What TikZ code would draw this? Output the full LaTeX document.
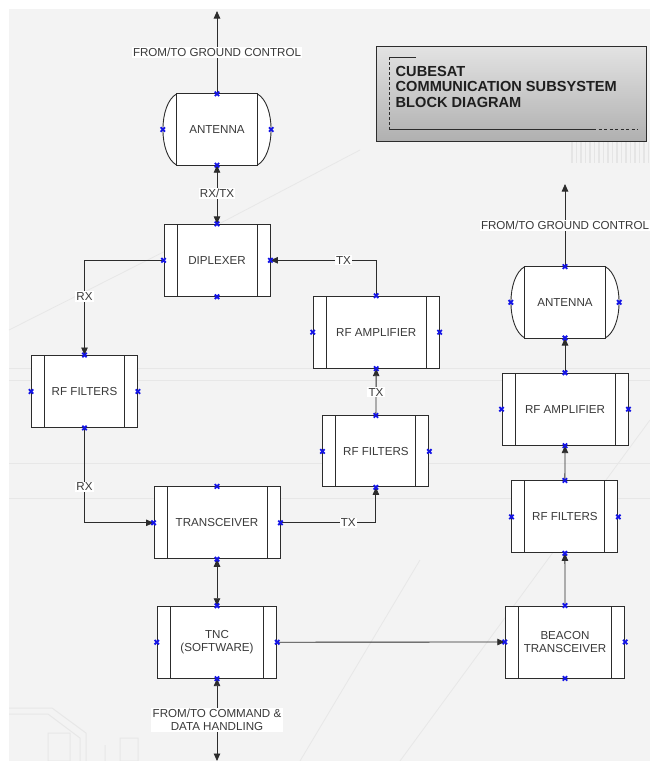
\documentclass[tikz,border=0pt]{standalone}
\usepackage{fontspec}
\setmainfont{Liberation Sans}
\usetikzlibrary{arrows.meta}
\definecolor{ink}{HTML}{2C2C2C}
\definecolor{txt}{HTML}{3A3A3A}
\definecolor{bg}{HTML}{F3F3F3}
\definecolor{faint}{HTML}{E7E7E7}
\definecolor{portblue}{HTML}{1414E6}
\begin{document}
\begin{tikzpicture}[x=1pt,y=-1pt,
  every node/.style={font=\fontsize{11.6}{12.8}\selectfont, text=txt},
  blockbox/.style={draw=ink, line width=0.9pt, fill=white, minimum height=72pt,
    align=center, inner sep=0pt,
    path picture={\draw[ink,line width=0.9pt]
      ([xshift=13pt]path picture bounding box.north west) -- ([xshift=13pt]path picture bounding box.south west)
      ([xshift=-13pt]path picture bounding box.north east) -- ([xshift=-13pt]path picture bounding box.south east);}},
  antbody/.style={fill=white, minimum width=80pt, minimum height=71pt, inner sep=0pt},
  link/.style={draw=ink, line width=0.85pt},
  tip/.style={-{Triangle[length=7.5pt,width=6.5pt]}},
  bothtips/.style={{Triangle[length=7.5pt,width=6.5pt]}-{Triangle[length=7.5pt,width=6.5pt]}},
  lbl/.style={fill=white, inner sep=1.2pt, align=center},
  titletext/.style={font=\fontsize{14.6}{15.6}\selectfont\bfseries, text=black!88,
    align=left, inner sep=0pt, anchor=west},
  pics/portx/.style={code={\draw[portblue,line width=1.8pt] (-2.2,-2.2)--(2.2,2.2) (-2.2,2.2)--(2.2,-2.2);}}
]
\useasboundingbox (0,0) rectangle (650,761);

% page background and faint decorative traces
\fill[white] (0,0) rectangle (650,761);
\fill[bg] (9,9) rectangle (650,761);
\draw[faint, line width=0.8pt] (9,368) -- (650,368) (9,380) -- (650,380)
  (9,463) -- (650,463) (9,498) -- (650,498);
\draw[faint, line width=0.8pt] (9,330) -- (215,226) -- (360,150);
\draw[faint, line width=0.8pt] (400,761) -- (650,420);
\draw[faint, line width=0.8pt] (300,761) -- (420,560);
\draw[faint, line width=1pt] (9,708) -- (52,708) -- (86,733) -- (86,761)
  (9,714) -- (48,714) -- (80,738) -- (80,761)
  (48,733) rectangle (70,761) (105,745) -- (105,761)
  (120,738) rectangle (138,761);
\foreach \xx in {572,576.5,...,650} \draw[gray!20, line width=1.6pt] (\xx,142) -- (\xx,163);

% title panel
\shade[top color=gray!22, bottom color=gray!62, draw=ink, line width=1pt]
  (376,46) rectangle (646,141);
\node[titletext] (title) at (395.5,86.8) {CUBESAT\\COMMUNICATION SUBSYSTEM\\BLOCK DIAGRAM};
\draw[ink, line width=0.8pt] (416,57) -- (389.3,57);
\draw[ink, line width=0.8pt, dash pattern=on 3pt off 2pt] (389.3,57) -- (389.3,129);
\draw[ink, line width=0.8pt] (389.3,129) -- (593,129);
\draw[ink, line width=0.8pt, dash pattern=on 3pt off 2.5pt] (593,129) -- (638,129);

% antennas: body with curved ends
\foreach \nm/\cx/\cy in {ant1/217/129.5, ant2/565/302.3}{
  \node[antbody] (\nm) at (\cx,\cy) {};
  \fill[white] (\nm.north west)
    .. controls ([shift={(-18.5,10)}]\nm.north west) and ([shift={(-18.5,-10)}]\nm.south west) .. (\nm.south west) -- cycle;
  \fill[white] (\nm.north east)
    .. controls ([shift={(18.5,10)}]\nm.north east) and ([shift={(18.5,-10)}]\nm.south east) .. (\nm.south east) -- cycle;
  \draw[ink, line width=0.9pt] (\nm.north west)
    .. controls ([shift={(-18.5,10)}]\nm.north west) and ([shift={(-18.5,-10)}]\nm.south west) .. (\nm.south west)
    (\nm.north east)
    .. controls ([shift={(18.5,10)}]\nm.north east) and ([shift={(18.5,-10)}]\nm.south east) .. (\nm.south east);
  \draw[ink, line width=0.9pt] (\nm.north west) rectangle (\nm.south east);
  \node at (\nm.center) {ANTENNA};
}

% processing blocks
\node[blockbox, minimum width=106pt] (dip) at (217,260.3) {DIPLEXER};
\node[blockbox, minimum width=126pt] (rfa1) at (376.2,332.2) {RF AMPLIFIER};
\node[blockbox, minimum width=106pt] (rff1) at (84.5,391.5) {RF FILTERS};
\node[blockbox, minimum width=106pt, minimum height=71pt] (rff2) at (375.9,451.4) {RF FILTERS};
\node[blockbox, minimum width=126pt] (trx) at (217,522.8) {TRANSCEIVER};
\node[blockbox, minimum width=119.5pt] (tnc) at (217,642.2) {TNC\\(SOFTWARE)};
\node[blockbox, minimum width=119.5pt] (bcn) at (565,642) {BEACON\\TRANSCEIVER};
\node[blockbox, minimum width=106pt] (rff3) at (564.9,516.9) {RF FILTERS};
\node[blockbox, minimum width=126pt] (rfa2) at (565,409.2) {RF AMPLIFIER};

% free ends of external links
\coordinate (gc1) at (217,11);
\coordinate (gc2) at (565,184);
\coordinate (cdh) at (217,761);

% connectors
\draw[link, tip] (ant1.north) -- (gc1) node[lbl, pos=0.5] {FROM/TO GROUND CONTROL};
\draw[link, bothtips] (ant1.south) -- (dip.north) node[lbl, pos=0.48] {RX/TX};
\draw[link, tip] (dip.west) -| (rff1.north) node[lbl, pos=0.69] {RX};
\draw[link, tip] (rfa1.north) |- (dip.east) node[lbl, pos=0.655] {TX};
\draw[link, tip] (rff2.north) -- (rfa1.south) node[lbl, pos=0.5] {TX};
\draw[link, tip] (rff1.south) |- (trx.west) node[lbl, pos=0.31] {RX};
\draw[link, tip] (trx.east) -| (rff2.south) node[lbl, pos=0.355] {TX};
\draw[link, bothtips] (trx.south) -- (tnc.north);
\draw[link, tip] (tnc.east) -- (bcn.west);
\draw[link, bothtips] (tnc.south) -- (cdh) node[lbl, pos=0.5] {FROM/TO COMMAND \&\\DATA HANDLING};
\draw[link, tip] (bcn.north) -- (rff3.south);
\draw[link, tip] (rff3.north) -- (rfa2.south);
\draw[link, tip] (rfa2.north) -- (ant2.south);
\draw[link, tip] (ant2.north) -- (gc2) node[lbl, pos=0.5] {FROM/TO GROUND CONTROL};

% connection points
\foreach \nm in {dip,rfa1,rff1,rff2,trx,tnc,bcn,rff3,rfa2}{
  \foreach \an in {north,south,east,west} \pic at (\nm.\an) {portx};
}
\foreach \nm in {ant1,ant2}{
  \pic at (\nm.north) {portx};
  \pic at (\nm.south) {portx};
  \pic at ([xshift=-14pt]\nm.west) {portx};
  \pic at ([xshift=14pt]\nm.east) {portx};
}
\end{tikzpicture}
\end{document}
